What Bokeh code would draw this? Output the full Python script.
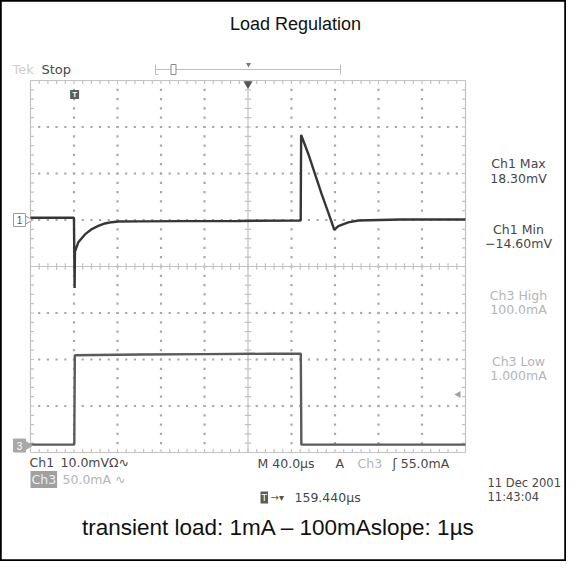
import numpy as np
from bokeh.plotting import figure
from bokeh.models import Range1d, Label
from bokeh.embed import file_html
from bokeh.resources import INLINE

# ---------------- data ----------------
title_text = "Load Regulation"
caption_text = "transient load: 1mA \u2013 100mAslope: 1\u00b5s"

time_per_div_us = 40.0
ch1_mv_per_div = 10.0
ch3_ma_per_div = 50.0
trigger_delay_us = 159.44
trigger_level_ma = 55.0
ch1_offset_div = 1.0
ch3_offset_div = -3.85

# Ch1: output voltage deviation (mV) vs time (us, trigger at 0)
ch1_t_us = [-40.6, -0.6, 0.0, 0.3, 3.4, 9.5, 15.6, 21.8, 27.9, 34.0, 40.2, 60.0,
            100.0, 150.0, 207.9, 208.3, 214.9, 221.0, 227.1, 233.3, 238.8, 242.5,
            251.6, 260.9, 300.0, 359.4]
ch1_mv = [0.5, 0.5, -14.6, -6.8, -4.8, -3.1, -2.0, -1.25, -0.75, -0.47, -0.32, -0.3,
          -0.25, -0.2, -0.1, 18.3, 14.2, 9.9, 5.6, 1.6, -2.1, -1.3,
          -0.5, -0.1, 0.1, 0.1]

# Ch3: load current (mA) vs time (us)
ch3_t_us = [-40.6, -0.3, 0.2, 60.0, 120.0, 180.0, 208.0, 208.5, 359.4]
ch3_ma = [1.0, 1.0, 97.0, 97.8, 98.3, 98.7, 98.8, 1.0, 1.0]

right_labels = [("Ch1 Max", "18.30mV"), ("Ch1 Min", "\u221214.60mV"),
                ("Ch3 High", "100.0mA"), ("Ch3 Low", "1.000mA")]

# ---------------- layout ----------------
W, H = 566, 561
GX0, GX1, GY0, GY1 = 30.0, 465.0, 80.0, 452.0
NX, NY = 10, 8
DX = (GX1 - GX0) / NX
DY = (GY1 - GY0) / NY
CX = (GX0 + GX1) / 2
CY = (GY0 + GY1) / 2

GRID = "#c2c2c2"
DARK = "#474747"
LIGHT = "#b5b5b5"
SCOPE_FONT = "DejaVu Sans"

p = figure(width=W, height=H, x_range=Range1d(0, W), y_range=Range1d(H, 0),
           x_axis_type=None, y_axis_type=None, min_border=0,
           toolbar_location=None, output_backend="svg")
p.grid.visible = False
p.outline_line_color = "black"
p.outline_line_width = 2.5
p.background_fill_color = "white"
p.border_fill_color = "white"

dxs, dxe = (0 - CX) / DX, (W - CX) / DX
dys, dye = (CY - H) / DY, (CY - 0) / DY
p.extra_x_ranges = {
    "div_x": Range1d(dxs, dxe),
    "t": Range1d(trigger_delay_us + dxs * time_per_div_us,
                 trigger_delay_us + dxe * time_per_div_us),
}
p.extra_y_ranges = {
    "div_y": Range1d(dys, dye),
    "ch1": Range1d((dys - ch1_offset_div) * ch1_mv_per_div, (dye - ch1_offset_div) * ch1_mv_per_div),
    "ch3": Range1d((dys - ch3_offset_div) * ch3_ma_per_div, (dye - ch3_offset_div) * ch3_ma_per_div),
}
G = dict(x_range_name="div_x", y_range_name="div_y")

# dotted grid
dx_pts, dy_pts = [], []
sub = np.round(np.arange(-4.8, 4.81, 0.2), 3)
suby = np.round(np.arange(-3.8, 3.81, 0.2), 3)
for xi in [-4, -3, -2, -1, 1, 2, 3, 4]:
    dx_pts += [xi] * len(suby)
    dy_pts += list(suby)
for yi in [-3, -2, -1, 1, 2, 3]:
    dx_pts += list(sub)
    dy_pts += [yi] * len(sub)
p.scatter(dx_pts, dy_pts, marker="square", size=2.2, fill_color="#a8a8a8",
          line_color=None, **G)

# border and center cross
p.segment(x0=[-5, -5, -5, 5, 0, -5], y0=[-4, 4, -4, -4, -4, 0],
          x1=[5, 5, -5, 5, 0, 5], y1=[-4, 4, 4, 4, 4, 0],
          line_color=GRID, line_width=1.2, **G)
tlx = 3.5 / DX
tly = 3.5 / DY
sx = np.round(np.arange(-4.8, 4.81, 0.2), 3)
sy = np.round(np.arange(-3.8, 3.81, 0.2), 3)
x0, y0, x1, y1 = [], [], [], []
for v in sx:
    x0 += [v, v, v]; x1 += [v, v, v]
    y0 += [4, -4, -tly * 0.9]; y1 += [4 - tly, -4 + tly, tly * 0.9]
for v in sy:
    y0 += [v, v, v]; y1 += [v, v, v]
    x0 += [-5, 5, -tlx * 0.9]; x1 += [-5 + tlx, 5 - tlx, tlx * 0.9]
p.segment(x0=x0, y0=y0, x1=x1, y1=y1, line_color=GRID, line_width=1.2, **G)

# traces
p.line(ch3_t_us, ch3_ma, x_range_name="t", y_range_name="ch3",
       line_color="#5a5a5a", line_width=2.4)
p.line(ch1_t_us, ch1_mv, x_range_name="t", y_range_name="ch1",
       line_color="#363636", line_width=2.4)

# channel ground markers
p.rect(x=[19], y=[0], width=12, height=13, height_units="screen",
       y_range_name="ch1", fill_color="white", line_color="#9a9a9a")
p.scatter(x=[27.5], y=[0], y_range_name="ch1", marker="triangle", angle=-np.pi / 2,
          size=8, fill_color="white", line_color="#9a9a9a")
p.text(x=[19], y=[0], text=["1"], y_range_name="ch1", text_align="center",
       text_baseline="middle", text_font_size="10px", text_color="#555555")
p.rect(x=[19], y=[0], width=12, height=13, height_units="screen",
       y_range_name="ch3", fill_color="#a8a8a8", line_color="#a8a8a8")
p.scatter(x=[27.5], y=[0], y_range_name="ch3", marker="triangle", angle=-np.pi / 2,
          size=8, fill_color="#a8a8a8", line_color="#a8a8a8")
p.text(x=[19], y=[0], text=["3"], y_range_name="ch3", text_align="center",
       text_baseline="middle", text_font_size="10px", text_color="white")

# trigger markers
p.scatter(x=[0], y=[3.7], x_range_name="t", y_range_name="div_y", marker="square",
          size=9, fill_color="#5c5c5c", line_color=None)
p.text(x=[0], y=[3.7], text=["T"], x_range_name="t", y_range_name="div_y",
       text_align="center", text_baseline="middle", text_font_size="8px",
       text_color="white", text_font_style="bold")
p.scatter(x=[trigger_delay_us], y=[3.93], x_range_name="t", y_range_name="div_y",
          marker="inverted_triangle", size=9, fill_color="#555555", line_color=None)
p.scatter(x=[GX1 - 7], y=[trigger_level_ma], y_range_name="ch3", marker="triangle",
          angle=np.pi / 2, size=7, fill_color="#a0a0a0", line_color=None)

# record bar at top
p.segment(x0=[155, 155, 340, 340], y0=[69, 64, 64, 69], x1=[340, 155, 340, 336],
          y1=[69, 74, 74, 69], line_color="#bdbdbd", line_width=1)
p.segment(x0=[155], y0=[74], x1=[158], y1=[74], line_color="#bdbdbd")
p.rect(x=[173], y=[69], width=5, height=10, fill_color="white", line_color="#8a8a8a")
p.scatter(x=[248], y=[64], marker="inverted_triangle", size=5, fill_color="#777777",
          line_color=None)


def lab(x, y, text, size="12.5px", color=DARK, align="left", font=SCOPE_FONT,
        bg=None):
    kw = {}
    if bg is not None:
        kw = dict(background_fill_color=bg, padding=1)
    p.add_layout(Label(x=x, y=y, text=text, text_font=font, text_font_size=size,
                       text_color=color, text_align=align, text_baseline="middle", **kw))


lab(295, 23, title_text, size="18px", color="#111111", align="center", font="Liberation Sans")
lab(278, 527, caption_text, size="22.5px", color="#111111", align="center", font="Liberation Sans")

lab(12, 69, "Tek", color="#cdcdcd", size="13px")
lab(41, 69, "Stop", color=DARK, size="13px")

ry = [(163, 178), (229, 243), (295, 309), (361, 375)]
for i, ((a, b), (ya, yb)) in enumerate(zip(right_labels, ry)):
    col = DARK if i < 2 else LIGHT
    lab(518, ya, a, color=col, align="center")
    lab(518, yb, b, color=col, align="center")

lab(29, 462, "Ch1", color=DARK)
lab(60, 462, "10.0mV\u03a9\u223f", color=DARK)
lab(30, 479, "Ch3", color="#eeeeee", bg="#a0a0a0")
lab(62, 479, "50.0mA  \u223f", color=LIGHT)
lab(257, 463, "M 40.0\u00b5s", color=DARK)
lab(335, 463, "A", color=DARK)
lab(357, 463, "Ch3", color=LIGHT)
lab(392, 463, "\u0283  55.0mA", color=DARK)
lab(260, 497, "T", color="white", size="9px", bg="#5c5c5c")
lab(270, 497, "\u2192\u25be", color="#555555", size="10px")
lab(294, 497, "159.440\u00b5s", color=DARK)
lab(487, 482, "11 Dec 2001", color=DARK, size="11.5px")
lab(487, 496, "11:43:04", color=DARK, size="11.5px")

open("out.html", "w").write(file_html(p, INLINE))
